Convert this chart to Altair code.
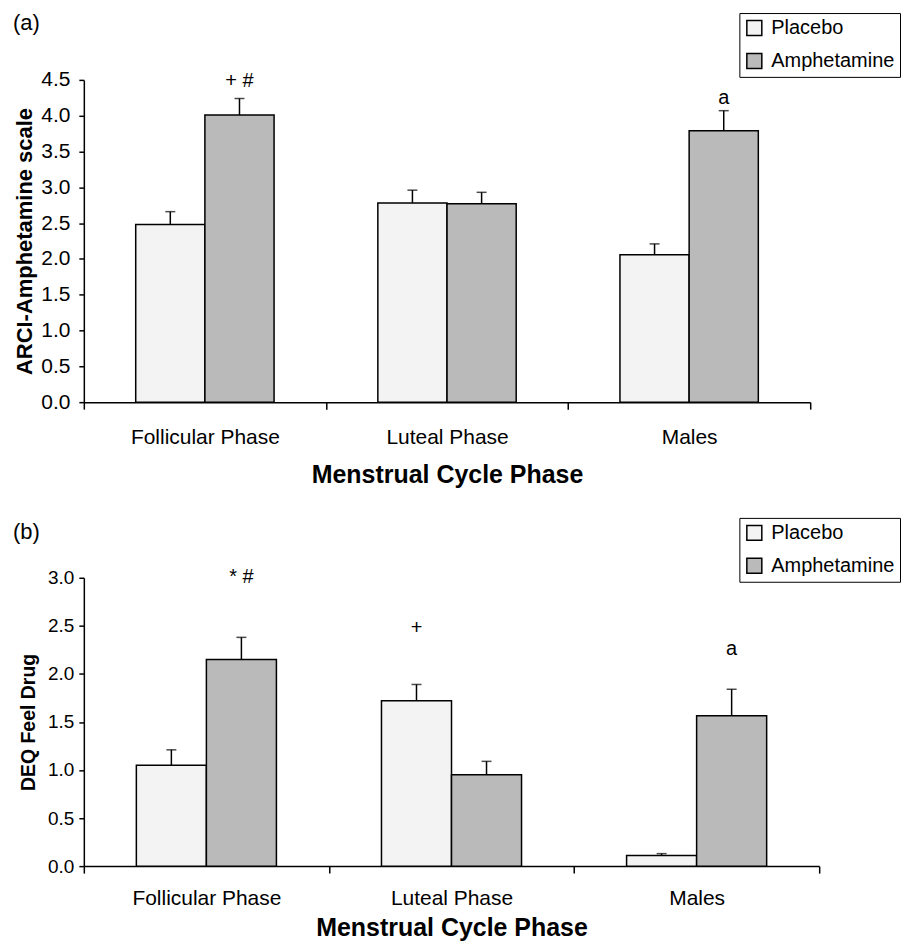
import altair as alt
import pandas as pd

phases = ["Follicular Phase", "Luteal Phase", "Males"]
drugs = ["Placebo", "Amphetamine"]

# Panel (a): ARCI-Amphetamine scale
a_placebo = [2.48, 2.78, 2.06]
a_placebo_up = [2.66, 2.96, 2.21]
a_amph = [4.01, 2.77, 3.79]
a_amph_up = [4.24, 2.93, 4.07]
a_ann_phase = ["Follicular Phase", "Males"]
a_ann_drug = ["Amphetamine", "Amphetamine"]
a_ann_text = ["+ #", "a"]
a_ann_y = [4.48, 4.25]
a_ticks = [0.0, 0.5, 1.0, 1.5, 2.0, 2.5, 3.0, 3.5, 4.0, 4.5]

# Panel (b): DEQ Feel Drug
b_placebo = [1.05, 1.72, 0.11]
b_placebo_up = [1.21, 1.89, 0.13]
b_amph = [2.15, 0.95, 1.565]
b_amph_up = [2.38, 1.09, 1.84]
b_ann_phase = ["Follicular Phase", "Luteal Phase", "Males"]
b_ann_drug = ["Amphetamine", "Placebo", "Amphetamine"]
b_ann_text = ["* #", "+", "a"]
b_ann_y = [3.01, 2.48, 2.26]
b_ticks = [0.0, 0.5, 1.0, 1.5, 2.0, 2.5, 3.0]

FONT = "Liberation Sans"
colors = ["#f3f3f3", "#bababa"]


def make_df(plac, plac_up, amph, amph_up):
    rows = []
    for i, p in enumerate(phases):
        rows.append({"phase": p, "drug": "Placebo", "value": plac[i], "upper": plac_up[i]})
        rows.append({"phase": p, "drug": "Amphetamine", "value": amph[i], "upper": amph_up[i]})
    return pd.DataFrame(rows)


def panel(df, ann, ymax, ticks, ytitle, label, w, h, lx, ly, px, py, ylabsize, ytitlesize,
          ylabpad, ytitlepad, xlabpad, xtitlepad):
    xaxis = alt.Axis(title="Menstrual Cycle Phase", labelAngle=0,
                     labelFontSize=21, titleFontSize=25, titleFontWeight="bold",
                     tickBand="extent", tickSize=7, labelPadding=xlabpad,
                     titlePadding=xtitlepad)
    xscale = alt.Scale(paddingInner=0, paddingOuter=0)
    xoscale = alt.Scale(paddingInner=0, paddingOuter=0.75)
    yscale = alt.Scale(domain=[0, ymax], nice=False, zero=True)
    yaxis = alt.Axis(title=ytitle, values=ticks, format=".1f", labelOverlap=False,
                     labelFontSize=ylabsize, titleFontSize=ytitlesize,
                     titleFontWeight="bold", tickSize=5, labelPadding=ylabpad,
                     titlePadding=ytitlepad)

    def X():
        return alt.X("phase:N", sort=phases, scale=xscale, axis=xaxis)

    def XO():
        return alt.XOffset("drug:N", sort=drugs, scale=xoscale)

    def Y(field):
        return alt.Y(field, scale=yscale, axis=yaxis)

    color = alt.Color("drug:N", sort=drugs,
                      scale=alt.Scale(domain=drugs, range=colors),
                      legend=alt.Legend(title=None, orient="none", legendX=lx, legendY=ly,
                                        strokeColor="black", fillColor="white",
                                        padding=5, rowPadding=11,
                                        symbolType="square", symbolSize=225,
                                        symbolStrokeColor="black", symbolStrokeWidth=1.5,
                                        labelFontSize=20, labelOffset=7,
                                        labelColor="black", labelLimit=300))
    bars = alt.Chart(df).mark_bar(stroke="black", strokeWidth=1.5).encode(
        x=X(), xOffset=XO(), y=Y("value:Q"), color=color)
    rule = alt.Chart(df).mark_rule(color="black", strokeWidth=1.5).encode(
        x=X(), xOffset=XO(), y=Y("value:Q"), y2="upper:Q")
    cap = alt.Chart(df).mark_tick(color="black", orient="horizontal", size=10,
                                  thickness=1.5).encode(
        x=X(), xOffset=XO(), y=Y("upper:Q"))
    text = alt.Chart(ann).mark_text(fontSize=20, font=FONT, color="black",
                                    baseline="middle").encode(
        x=X(), xOffset=XO(), y=Y("ypos:Q"), text="label:N")
    tag = alt.Chart(pd.DataFrame({"t": [label]})).mark_text(
        fontSize=22, font=FONT, color="black", align="left", baseline="middle"
    ).encode(x=alt.value(px), y=alt.value(py), text="t:N")
    return alt.layer(bars, rule, cap, text, tag).properties(width=w, height=h)


df_a = make_df(a_placebo, a_placebo_up, a_amph, a_amph_up)
df_b = make_df(b_placebo, b_placebo_up, b_amph, b_amph_up)
ann_a = pd.DataFrame({"phase": a_ann_phase, "drug": a_ann_drug, "label": a_ann_text, "ypos": a_ann_y})
ann_b = pd.DataFrame({"phase": b_ann_phase, "drug": b_ann_drug, "label": b_ann_text, "ypos": b_ann_y})

pa = panel(df_a, ann_a, 4.5, a_ticks, "ARCI-Amphetamine scale", "(a)", 728, 323,
           657, -67, -71, -57, 21, 22, 9, 4, 17, 16)
pb = panel(df_b, ann_b, 3.0, b_ticks, "DEQ Feel Drug", "(b)", 737, 289,
           657, -60, -71, -46, 19, 19.5, 5, 9, 14, 8)

chart = alt.vconcat(pa, pb, spacing=29).resolve_scale(
    x="independent", y="independent", color="independent", xOffset="independent"
).resolve_legend(color="independent").properties(
    padding={"left": 5, "top": 3, "right": 0, "bottom": 0}
).configure(font=FONT).configure_view(stroke=None).configure_axis(
    domainColor="black", domainWidth=1.5, tickColor="black", tickWidth=1.5,
    labelColor="black", titleColor="black", grid=False, labelFont=FONT, titleFont=FONT
).configure_legend(labelFont=FONT)

chart.save("out.html", embed_options={"renderer": "svg", "actions": False})
